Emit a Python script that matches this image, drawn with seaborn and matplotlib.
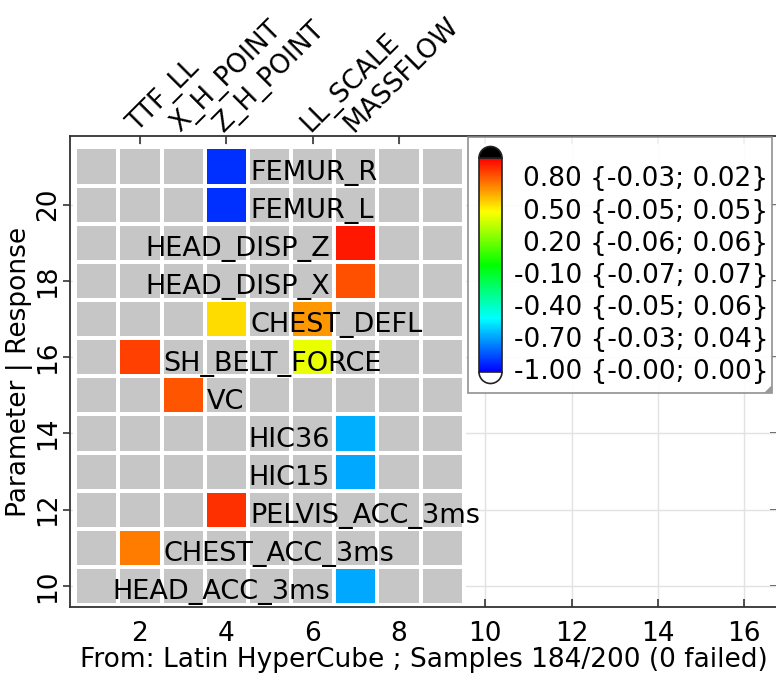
import numpy as np
import pandas as pd
import seaborn as sns
import matplotlib.pyplot as plt
from matplotlib.colors import LinearSegmentedColormap, ListedColormap, hsv_to_rgb
from matplotlib.patches import Rectangle, Polygon, Wedge
from matplotlib import transforms

# ---- data ----
param_ids = list(range(1, 10))
response_ids = list(range(10, 22))
response_names = ["HEAD_ACC_3ms", "CHEST_ACC_3ms", "PELVIS_ACC_3ms", "HIC15", "HIC36", "VC",
                  "SH_BELT_FORCE", "CHEST_DEFL", "HEAD_DISP_X", "HEAD_DISP_Z", "FEMUR_L", "FEMUR_R"]
param_label_ids = [2, 3, 4, 6, 7]
param_labels = ["TTF_LL", "X_H_POINT", "Z_H_POINT", "LL_SCALE", "MASSFLOW"]

cell_response = [21, 20, 19, 18, 17, 17, 16, 16, 15, 14, 13, 12, 11, 10]
cell_param = [4, 4, 7, 7, 4, 6, 2, 6, 3, 7, 7, 4, 2, 7]
cell_corr = [-0.90, -0.90, 0.95, 0.84, 0.57, 0.70, 0.87, 0.46, 0.83, -0.65, -0.67, 0.90, 0.75, -0.67]

cbar_ticks = [0.8, 0.5, 0.2, -0.1, -0.4, -0.7, -1.0]
cbar_lo = [-0.03, -0.05, -0.06, -0.07, -0.05, -0.03, -0.0]
cbar_hi = [0.02, 0.05, 0.06, 0.07, 0.06, 0.04, 0.00]

xlabel = "From: Latin HyperCube ; Samples 184/200 (0 failed)"
ylabel = "Parameter | Response"

# where each response name sits (x in data units, alignment)
name_x = [6.4, 2.55, 4.55, 6.4, 6.4, 3.55, 2.55, 4.55, 6.4, 6.4, 4.55, 4.55]
name_ha = ["right", "left", "left", "right", "right", "left", "left", "left", "right", "right", "left", "left"]

fs = 19
fs_names = 19.5
W, H = 776, 673

sns.set_style("white")
plt.rcParams["font.family"] = ["DejaVu Sans"]
plt.rcParams["text.color"] = "black"
plt.rcParams["axes.labelcolor"] = "black"
plt.rcParams["xtick.color"] = "black"
plt.rcParams["ytick.color"] = "black"

grid = pd.DataFrame(np.nan, index=response_ids, columns=param_ids)
for r, p, v in zip(cell_response, cell_param, cell_corr):
    grid.loc[r, p] = v
bg = pd.DataFrame(0.0, index=response_ids, columns=param_ids)

hues = np.linspace(2 / 3, 0, 256)
cmap = LinearSegmentedColormap.from_list(
    "hue", hsv_to_rgb(np.column_stack([hues, np.ones(256), np.ones(256)])))

fig = plt.figure(figsize=(W / 100, H / 100), dpi=100)
ax = fig.add_axes([70 / W, 66 / H, 708 / W, 471 / H])
cax = fig.add_axes([479 / W, 1 - 372 / H, 23 / W, 214 / H])

sns.heatmap(bg, cmap=ListedColormap(["#c6c6c6"]), cbar=False,
            linewidths=1.5, linecolor="white", ax=ax)
sns.heatmap(grid, cmap=cmap, vmin=-1, vmax=1, linewidths=1.5, linecolor="white", ax=ax,
            cbar=True, cbar_ax=cax, cbar_kws=dict(ticks=cbar_ticks))


def hx(v):
    return np.asarray(v, dtype=float) - param_ids[0] + 0.5


def hy(v):
    return np.asarray(v, dtype=float) - response_ids[0] + 0.5


ax.set_xlim(hx(0.38), hx(16.78))
ax.set_ylim(hy(9.45), hy(21.8))

xt = np.arange(2, 17, 2)
yt = np.arange(10, 21, 2)
ax.set_xticks(hx(xt))
ax.set_xticklabels([str(v) for v in xt], fontsize=fs, rotation=0)
ax.set_yticks(hy(yt))
ax.set_yticklabels([str(v) for v in yt], fontsize=fs, rotation=90, va="center")
ax.tick_params(axis="x", direction="in", top=True, bottom=True, length=6, width=1.2,
               color="#333333", pad=10)
ax.tick_params(axis="y", direction="out", left=True, length=5, width=1.2,
               color="#333333", pad=1.5)
sec = ax.secondary_yaxis("right", functions=(lambda y: y, lambda y: y))
sec.set_yticks(hy(yt))
sec.tick_params(direction="in", length=6, width=1.2, color="#333333", labelright=False)
sec.spines["right"].set_visible(False)

for s in ax.spines.values():
    s.set_visible(True)
    s.set_color("#333333")
    s.set_linewidth(1.3)

ax.grid(True, color="#e2e2e2", linewidth=1)
ax.set_axisbelow(True)

ax.set_xlabel(xlabel, fontsize=fs)
ax.xaxis.set_label_coords(0.5, -0.085)
ax.set_ylabel(ylabel, fontsize=fs)
ax.yaxis.set_label_coords(-0.052, 0.5)

for p, lab in zip(param_label_ids, param_labels):
    ax.annotate(lab, xy=(hx(p), 1), xycoords=("data", "axes fraction"),
                xytext=(1, -1), textcoords="offset points", rotation=45,
                rotation_mode="anchor", ha="left", va="bottom", fontsize=fs)

for r, name, x, ha in zip(response_ids, response_names, name_x, name_ha):
    ax.text(hx(x), hy(r) - 0.35, name, ha=ha, va="baseline", fontsize=fs_names)

# legend box with colour bar
box = Rectangle((468 / W, 1 - 393 / H), (772 - 468) / W, (393 - 137) / H,
                transform=fig.transFigure, facecolor="white", edgecolor="#888888",
                linewidth=1.2, alpha=0.92, zorder=1)
fig.add_artist(box)
shadow = Polygon([(764 / W, 1 - 393 / H), (772 / W, 1 - 393 / H), (772 / W, 1 - 385 / H)],
                 closed=True, transform=fig.transFigure, facecolor="#999999",
                 edgecolor="none", zorder=1.5)
fig.add_artist(shadow)
cax.set_zorder(2)
cax.tick_params(direction="in", length=9, width=1.2, color="black", labelright=False, right=True)
cb = ax.collections[-1].colorbar
cb.outline.set_linewidth(1.2)
cb.outline.set_edgecolor("#222222")

# rounded end caps (over: black, under: white)
cx, r_cap = 490.5 / 100, 11.5 / 100
top_cap = Wedge((cx, (H - 158) / 100), r_cap, 0, 180, transform=fig.dpi_scale_trans,
                facecolor="black", edgecolor="#222222", linewidth=1.2, zorder=3)
bot_cap = Wedge((cx, (H - 372) / 100), r_cap, 180, 360, transform=fig.dpi_scale_trans,
                facecolor="white", edgecolor="#222222", linewidth=1.2, zorder=3)
fig.add_artist(top_cap)
fig.add_artist(bot_cap)

tr = transforms.blended_transform_factory(fig.transFigure, cax.transData)
for t, lo, hi in zip(cbar_ticks, cbar_lo, cbar_hi):
    cax.text(768 / W, t, f"{t:.2f} {{{lo:.2f}; {hi:.2f}}}", transform=tr,
             ha="right", va="center", fontsize=fs)

fig.savefig("out.png", dpi=100)
